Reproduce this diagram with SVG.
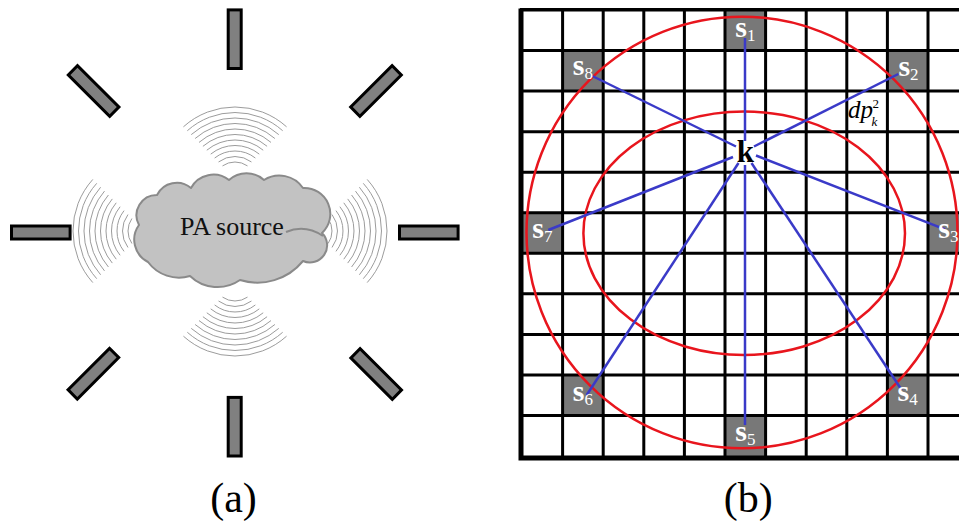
<svg xmlns="http://www.w3.org/2000/svg" xmlns:xlink="http://www.w3.org/1999/xlink" width="959" height="522" viewBox="0 0 959 522" font-family="'Liberation Serif', 'DejaVu Serif', serif">
  <style>
    text { font-family: 'Liberation Serif', 'DejaVu Serif', serif; }
    .sensor { fill: #808080; stroke: #000; stroke-width: 3; }
    .wave { fill: none; stroke: #9c9c9c; stroke-width: 1; }
    .cloud { fill: #c2c2c2; stroke: #8a8a8a; stroke-width: 2; stroke-linejoin: round; }
    .grid { fill: none; stroke: #000; stroke-width: 3; }
    .cell { fill: #787878; }
    .ring { fill: none; stroke: #e8151d; stroke-width: 2.5; }
    .ray { stroke: #3a3ac8; stroke-width: 2.5; fill: none; }
    .slab { fill: #fff; text-anchor: middle; }
    .s { font-size: 30px; font-weight: bold; }
    .sub { font-size: 17px; }
    .cap { font-size: 42px; text-anchor: middle; fill: #000; }
  </style>
  <defs>
    <!-- sensor bar centred on the origin, long axis vertical -->
    <rect id="bar" class="sensor" x="-6.5" y="-29.3" width="13" height="58.6"/>
    <!-- fan of concentric wave arcs, opening upwards from the origin -->
    <g id="fan" class="wave">
      <path d="M-12.5,-18.1 A22,22 0 0 1 12.5,-18.1"/>
      <path d="M-16.44,-22.04 A27.5,27.5 0 0 1 16.44,-22.04"/>
      <path d="M-20.37,-25.96 A33,33 0 0 1 20.37,-25.96"/>
      <path d="M-24.28,-29.88 A38.5,38.5 0 0 1 24.28,-29.88"/>
      <path d="M-28.19,-33.79 A44,44 0 0 1 28.19,-33.79"/>
      <path d="M-32.09,-37.69 A49.5,49.5 0 0 1 32.09,-37.69"/>
      <path d="M-35.99,-41.59 A55,55 0 0 1 35.99,-41.59"/>
      <path d="M-39.89,-45.49 A60.5,60.5 0 0 1 39.89,-45.49"/>
      <path d="M-43.78,-49.39 A66,66 0 0 1 43.78,-49.39"/>
      <path d="M-47.68,-53.28 A71.5,71.5 0 0 1 47.68,-53.28"/>
      <path d="M-51.57,-57.19 A77,77 0 0 1 51.57,-57.19"/>
    </g>
  </defs>

  <!-- Panel (a): acoustic source surrounded by eight sensors -->
  <g id="panel-a">
    <g id="waves">
      <use xlink:href="#fan" transform="translate(235,184)"/>
      <use xlink:href="#fan" transform="translate(235,279) rotate(180)"/>
      <use xlink:href="#fan" transform="translate(150,231) rotate(-90)"/>
      <use xlink:href="#fan" transform="translate(310,231) rotate(90)"/>
    </g>
    <g id="pa-source">
      <path class="cloud" d="M139,225 A20.3,20.3 0 0 1 157,195 A22,22 0 0 1 191,188 A25.4,25.4 0 0 1 229,180 A26,26 0 0 1 264,180 A28.7,28.7 0 0 1 303,188 A26,26 0 0 1 322,233 A17.2,17.2 0 0 1 303,261 A59,59 0 0 1 240,280 A39.5,39.5 0 0 1 190,276 A38.5,38.5 0 0 1 148,262 A25,25 0 0 1 139,225 Z"/>
      <path class="cloud" fill="none" d="M286,232 Q305,224 323,236"/>
      <text x="232" y="235" font-size="26" text-anchor="middle" fill="#111">PA source</text>
    </g>
    <g id="a-sensor-top"><use xlink:href="#bar" transform="translate(234.7,39.2)"/></g>
    <g id="a-sensor-top-right"><use xlink:href="#bar" transform="translate(376,91) rotate(45)"/></g>
    <g id="a-sensor-right"><use xlink:href="#bar" transform="translate(428.8,232.5) rotate(90)"/></g>
    <g id="a-sensor-bottom-right"><use xlink:href="#bar" transform="translate(376.2,374) rotate(-45)"/></g>
    <g id="a-sensor-bottom"><use xlink:href="#bar" transform="translate(234.7,426.7)"/></g>
    <g id="a-sensor-bottom-left"><use xlink:href="#bar" transform="translate(93.4,373.7) rotate(45)"/></g>
    <g id="a-sensor-left"><use xlink:href="#bar" transform="translate(40.8,232.5) rotate(90)"/></g>
    <g id="a-sensor-top-left"><use xlink:href="#bar" transform="translate(93.6,91) rotate(-45)"/></g>
    <text class="cap" x="233.5" y="512">(a)</text>
  </g>

  <!-- Panel (b): grid of positions, sensors s1..s8 and target cell k -->
  <g id="panel-b">
    <g id="cells">
      <rect class="cell" x="725" y="10" width="40.6" height="40.55"/>
      <rect class="cell" x="887.4" y="50.55" width="40.6" height="40.55"/>
      <rect class="cell" x="928" y="212.75" width="40.6" height="40.55"/>
      <rect class="cell" x="887.4" y="374.95" width="40.6" height="40.55"/>
      <rect class="cell" x="725" y="415.5" width="40.6" height="40.55"/>
      <rect class="cell" x="562.6" y="374.95" width="40.6" height="40.55"/>
      <rect class="cell" x="522" y="212.75" width="40.6" height="40.55"/>
      <rect class="cell" x="562.6" y="50.55" width="40.6" height="40.55"/>
    </g>
    <path class="grid" d="M522,10 H970 M522,50.55 H970 M522,91.1 H970 M522,131.65 H970 M522,172.2 H970 M522,212.75 H970 M522,253.3 H970 M522,293.85 H970 M522,334.4 H970 M522,374.95 H970 M522,415.5 H970
      M562.6,10 V456 M603.2,10 V456 M643.8,10 V456 M684.4,10 V456 M725,10 V456 M765.6,10 V456 M806.2,10 V456 M846.8,10 V456 M887.4,10 V456 M928,10 V456"/>
    <path d="M521,8.5 V458 H970" fill="none" stroke="#000" stroke-width="5"/>
    <path d="M520,9.5 H970" fill="none" stroke="#000" stroke-width="3"/>

    <g id="rings">
      <ellipse class="ring" cx="742" cy="232.5" rx="215.5" ry="215.8"/>
      <ellipse class="ring" cx="744.2" cy="233.3" rx="160.8" ry="121.7"/>
    </g>

    <g id="connectors">
      <line class="ray" x1="745" y1="141" x2="745" y2="38"/>
      <line class="ray" x1="754" y1="146.5" x2="898.3" y2="74"/>
      <line class="ray" x1="756" y1="155.5" x2="945" y2="229.3"/>
      <line class="ray" x1="751.5" y1="163" x2="901.7" y2="390"/>
      <line class="ray" x1="745" y1="165" x2="745" y2="425"/>
      <line class="ray" x1="738.5" y1="163" x2="586.7" y2="395"/>
      <line class="ray" x1="733" y1="157" x2="548.3" y2="230"/>
      <line class="ray" x1="736" y1="146.5" x2="592.3" y2="76"/>
    </g>

    <g id="s1"><text class="slab" x="745.3" y="37"><tspan class="s">s</tspan><tspan class="sub" dy="4">1</tspan></text></g>
    <g id="s2"><text class="slab" x="908.5" y="76"><tspan class="s">s</tspan><tspan class="sub" dy="4">2</tspan></text></g>
    <g id="s3"><text class="slab" x="948.3" y="238.3"><tspan class="s">s</tspan><tspan class="sub" dy="4">3</tspan></text></g>
    <g id="s4"><text class="slab" x="907.7" y="400.5"><tspan class="s">s</tspan><tspan class="sub" dy="4">4</tspan></text></g>
    <g id="s5"><text class="slab" x="745.3" y="441"><tspan class="s">s</tspan><tspan class="sub" dy="4">5</tspan></text></g>
    <g id="s6"><text class="slab" x="582.9" y="400.5"><tspan class="s">s</tspan><tspan class="sub" dy="4">6</tspan></text></g>
    <g id="s7"><text class="slab" x="542.3" y="238.3"><tspan class="s">s</tspan><tspan class="sub" dy="4">7</tspan></text></g>
    <g id="s8"><text class="slab" x="582.9" y="74.5"><tspan class="s">s</tspan><tspan class="sub" dy="4">8</tspan></text></g>

    <g id="k">
      <text x="745.3" y="161.5" font-size="31" font-weight="bold" text-anchor="middle" fill="#000">k</text>
    </g>
    <g id="dp-label" fill="#000">
      <text x="848" y="118.3" font-size="25" font-style="italic">dp</text>
      <text x="872.5" y="107.5" font-size="13">2</text>
      <text x="871.5" y="126" font-size="13" font-style="italic">k</text>
    </g>
    <text class="cap" x="748.3" y="512">(b)</text>
  </g>
</svg>
